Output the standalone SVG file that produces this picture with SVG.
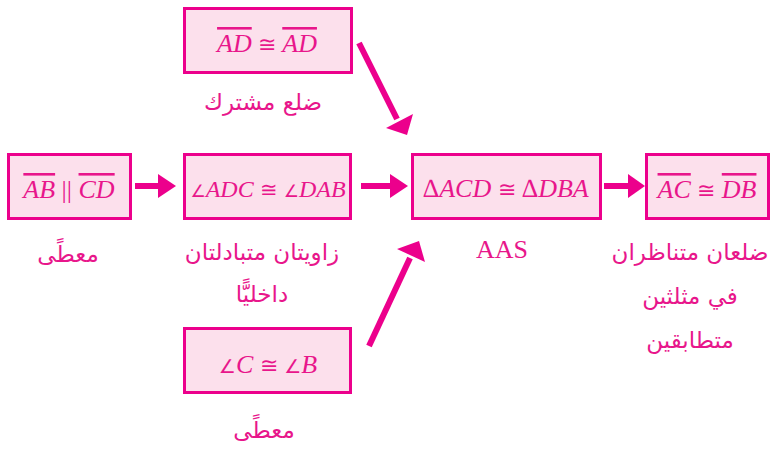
<svg xmlns="http://www.w3.org/2000/svg" width="771" height="451" viewBox="0 0 771 451">
<style>
.box{fill:#FCE0EC;stroke:#EC008C;stroke-width:3}
.m{font-family:"Liberation Serif",serif;font-style:italic;font-size:26px;fill:#E8168B;text-anchor:middle}
.ar{font-family:"DejaVu Sans",sans-serif;font-size:23px;fill:#E8168B;text-anchor:middle;direction:rtl}
.en{font-family:"Liberation Serif",serif;font-size:26px;fill:#E8168B;text-anchor:middle}
.ol{text-decoration:overline}
.up{font-style:normal}
.cg{font-family:"DejaVu Serif",serif;font-style:normal;font-size:22px;font-weight:normal}
.ag{font-family:"DejaVu Sans",sans-serif;font-style:italic;font-size:19px}
.c{fill:none;stroke:#EC008C;stroke-width:6}
.h{fill:#EC008C}
</style>
<rect width="771" height="451" fill="#fff"/>
<g id="n-ad">
<rect class="box" x="184.5" y="8.5" width="167" height="64"/>
<text class="m" x="267" y="52"><tspan class="ol">AD</tspan> <tspan class="cg">≅</tspan> <tspan class="ol">AD</tspan></text>
<text class="ar" x="263" y="110">ضلع مشترك</text>
</g>
<g id="n-ab">
<rect class="box" x="8.5" y="154.5" width="122" height="64"/>
<text class="m" x="69" y="198"><tspan class="ol">AB</tspan> <tspan class="up">||</tspan> <tspan class="ol">CD</tspan></text>
<text class="ar" x="68" y="262">معطًى</text>
</g>
<g id="n-adc">
<rect class="box" x="184.5" y="154.5" width="166" height="64"/>
<text class="m" x="268" y="197" style="font-size:24px"><tspan class="ag" style="font-size:17px">∠</tspan>ADC <tspan class="cg" style="font-size:21px">≅</tspan> <tspan class="ag" style="font-size:17px">∠</tspan>DAB</text>
<text class="ar" x="262" y="260">زاويتان متبادلتان</text>
<text class="ar" x="262" y="302">داخليًّا</text>
</g>
<g id="n-acd">
<rect class="box" x="412.5" y="154.5" width="188" height="64"/>
<text class="m" x="506" y="197"><tspan class="up">∆</tspan>ACD <tspan class="cg">≅</tspan> <tspan class="up">∆</tspan>DBA</text>
<text class="en" x="502" y="258">AAS</text>
</g>
<g id="n-ac">
<rect class="box" x="646.5" y="154.5" width="122" height="64"/>
<text class="m" x="707" y="198"><tspan class="ol">AC</tspan> <tspan class="cg">≅</tspan> <tspan class="ol">DB</tspan></text>
<text class="ar" x="690" y="260">ضلعان متناظران</text>
<text class="ar" x="690" y="304">في مثلثين</text>
<text class="ar" x="690" y="348">متطابقين</text>
</g>
<g id="n-cb">
<rect class="box" x="184.5" y="328.5" width="166" height="64"/>
<text class="m" x="268" y="373"><tspan class="ag">∠</tspan>C <tspan class="cg">≅</tspan> <tspan class="ag">∠</tspan>B</text>
<text class="ar" x="264" y="438">معطًى</text>
</g>
<g id="connectors">
<line class="c" x1="135" y1="186" x2="160" y2="186"/>
<polygon class="h" points="158,174 176,186 158,198"/>
<line class="c" x1="361" y1="186" x2="392" y2="186"/>
<polygon class="h" points="390,174 408,186 390,198"/>
<line class="c" x1="604" y1="186" x2="630" y2="186"/>
<polygon class="h" points="628,174 645,186 628,198"/>
<line class="c" x1="359" y1="43" x2="397" y2="119"/>
<polygon class="h" points="386,128 413,114 407,135"/>
<line class="c" x1="369" y1="346" x2="410" y2="258"/>
<polygon class="h" points="397,249 425,262 419,241"/>
</g>
</svg>
